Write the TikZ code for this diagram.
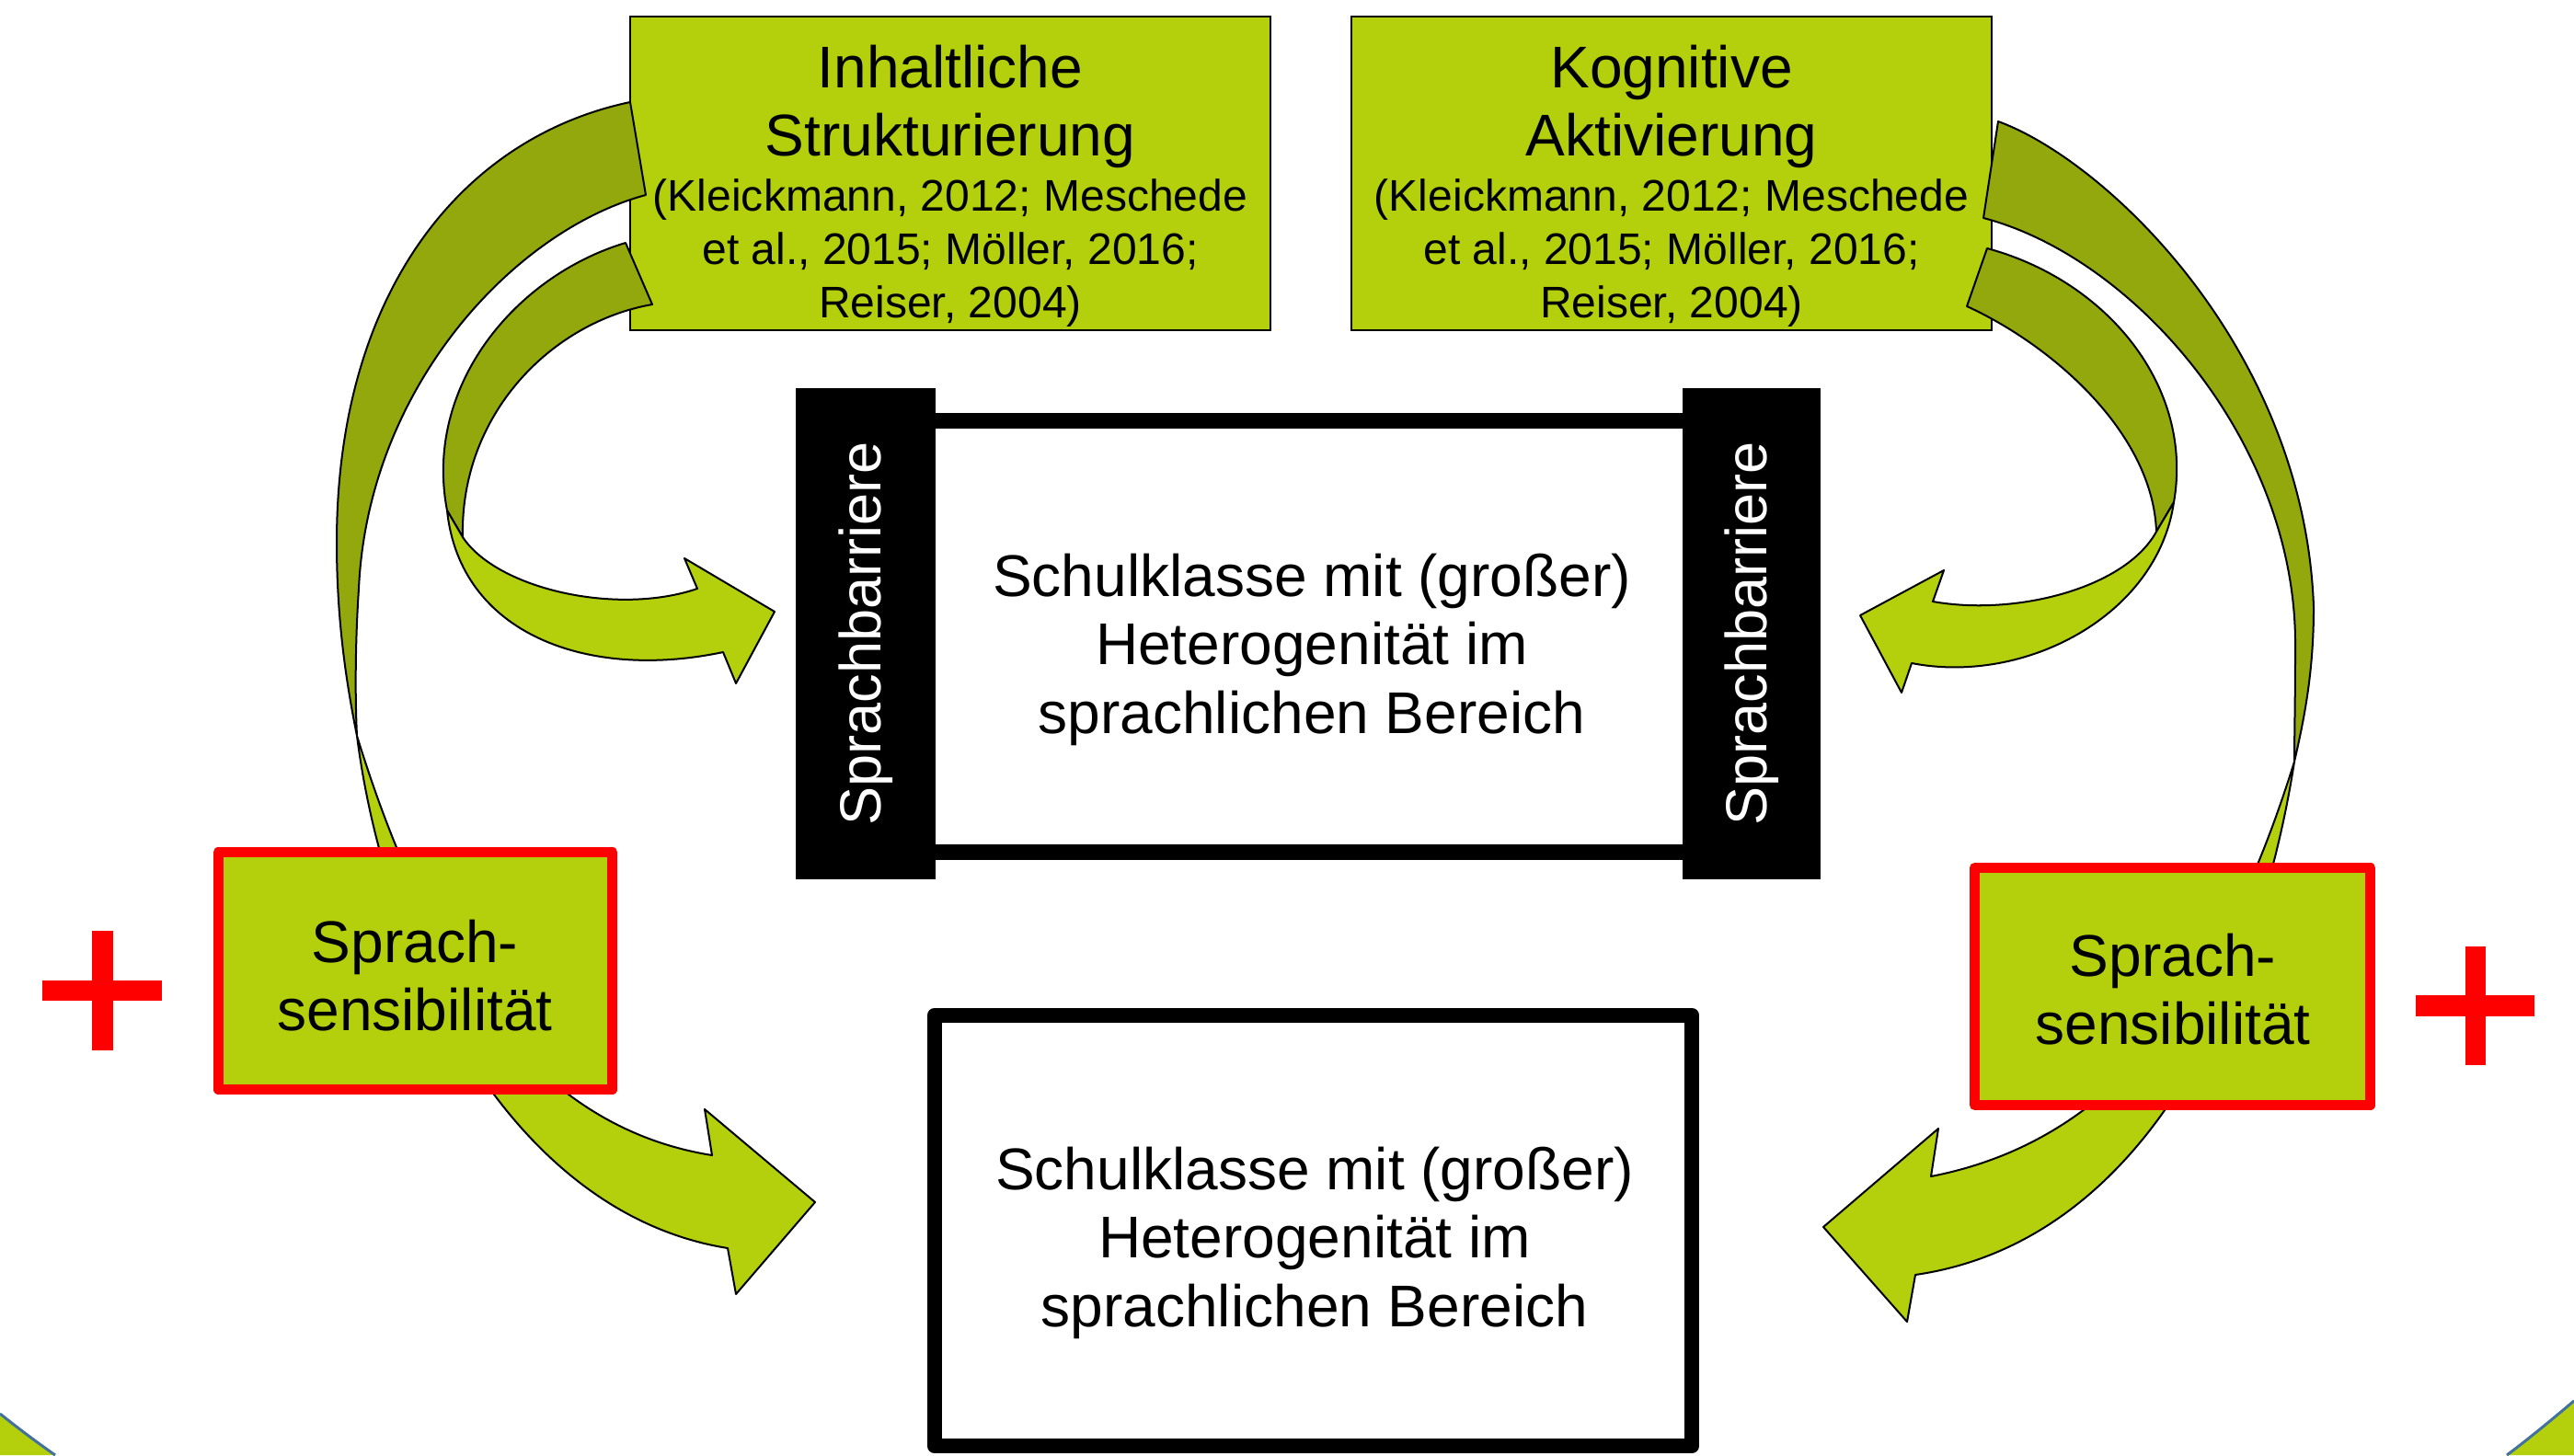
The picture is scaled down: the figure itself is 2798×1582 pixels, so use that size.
\documentclass[tikz,border=0pt]{standalone}
\usepackage{fontspec}
\setmainfont{Liberation Sans}
\definecolor{ltgreen}{RGB}{180,208,12}
\definecolor{dkgreen}{RGB}{146,168,12}
\definecolor{cornerblue}{RGB}{65,113,156}
\newcommand\bigfont{\fontsize{18.21}{21.2}\selectfont}
\newcommand\citefont{\fontsize{13.66}{16.5}\selectfont}
\newcommand\barfont{\fontsize{17.93}{21}\selectfont}
\begin{document}
\begin{tikzpicture}[x=0.01cm, y=-0.01cm,
  topbox/.style={draw=black, fill=ltgreen, line width=0.02cm, minimum width=6.96cm, minimum height=3.41cm, inner sep=0pt},
  redbox/.style={draw=red, fill=ltgreen, line width=0.11cm, line join=round, minimum height=2.58cm, inner sep=0pt},
  barbox/.style={fill=black, minimum width=1.51cm, minimum height=5.34cm, inner sep=0pt},
  classbox/.style={draw=black, fill=white, line join=round, inner sep=0pt},
  back/.style={fill=dkgreen, draw=black, line width=0.02cm, line join=round},
  front/.style={fill=ltgreen, draw=black, line width=0.02cm, line join=round},
  lbl/.style={font=\bigfont, align=center, inner sep=0pt, anchor=north},
  plus/.style={fill=red}
]
\useasboundingbox (0,0) rectangle (2798,1582);
\fill[white] (0,0) rectangle (2798,1582);

% corner shapes
\fill[ltgreen] (0,1537) .. controls (20,1553) and (40,1568) .. (60,1582) -- (0,1582) -- cycle;
\draw[cornerblue, line width=0.03cm] (0,1537) .. controls (20,1553) and (40,1568) .. (60,1582);
\fill[ltgreen] (2798,1523) .. controls (2772,1545) and (2749,1564) .. (2725,1582) -- (2798,1582) -- cycle;
\draw[cornerblue, line width=0.03cm] (2798,1523) .. controls (2772,1545) and (2749,1564) .. (2725,1582);

% top boxes
\node[topbox] (ins) at (1033,188.5) {};
\node[topbox] (kog) at (1817,188.5) {};
\node[lbl] (institle) at (1033,48) {Inhaltliche\\Strukturierung};
\node[lbl, font=\citefont] (inscite) at (1033,194) {(Kleickmann, 2012; Meschede\\et al., 2015; Möller, 2016;\\Reiser, 2004)};
\node[lbl] (kogtitle) at (1817,48) {Kognitive\\Aktivierung};
\node[lbl, font=\citefont] (kogcite) at (1817,194) {(Kleickmann, 2012; Meschede\\et al., 2015; Möller, 2016;\\Reiser, 2004)};

% big left arrow
\filldraw[back] (685,111) .. controls (500,150) and (366,320) .. (366,590)
  .. controls (366,680) and (378,750) .. (388,800)
  .. controls (386,760) and (386,700) .. (390,640)
  .. controls (400,420) and (560,250) .. (702,212) -- cycle;
\filldraw[front] (388,800) .. controls (465,1050) and (580,1225) .. (774,1256)
  -- (766,1206) -- (886,1307) -- (800,1407) -- (791,1357)
  .. controls (560,1320) and (420,1050) .. (388,800) -- cycle;

% small left arrow
\filldraw[back] (680,264) .. controls (560,300) and (460,420) .. (486,555)
  -- (503,584) .. controls (500,450) and (600,350) .. (709,331) -- cycle;
\filldraw[front] (503,584) .. controls (540,640) and (670,670) .. (758,640)
  -- (744,607) -- (842,665) -- (800,743) -- (786,709)
  .. controls (640,740) and (500,690) .. (486,555) -- cycle;

% big right arrow
\filldraw[back] (2172,132) .. controls (2290,175) and (2505,380) .. (2515,660)
  .. controls (2515,730) and (2505,780) .. (2494,828)
  .. controls (2494,800) and (2495,760) .. (2495,700)
  .. controls (2495,480) and (2320,280) .. (2156,237) -- cycle;
\filldraw[front] (2494,828) .. controls (2416,1078) and (2300,1240) .. (2099,1279)
  -- (2107,1227) -- (1982,1334) -- (2073,1437) -- (2082,1386)
  .. controls (2330,1350) and (2455,1078) .. (2494,828) -- cycle;

% small right arrow
\filldraw[back] (2160,270) .. controls (2290,305) and (2385,420) .. (2363,546)
  -- (2344,578) .. controls (2340,470) and (2230,375) .. (2138,333) -- cycle;
\filldraw[front] (2344,578) .. controls (2310,640) and (2190,670) .. (2101,654)
  -- (2113,620) -- (2022,669) -- (2067,753) -- (2078,721)
  .. controls (2200,745) and (2345,670) .. (2363,546) -- cycle;

% red boxes
\node[redbox, minimum width=4.28cm] (sensl) at (451.5,1055.5) {};
\node[redbox, minimum width=4.30cm] (sensr) at (2361.5,1072.5) {};
\node[lbl] (senslt) at (451,999) {Sprach-\\sensibilität};
\node[lbl] (sensrt) at (2362,1014) {Sprach-\\sensibilität};

% plus signs
\fill[plus] (46,1066) rectangle (176,1088);
\fill[plus] (100,1012) rectangle (123,1142);
\fill[plus] (2626,1082) rectangle (2755,1105);
\fill[plus] (2680,1029) rectangle (2702,1158);

% middle class box with barriers
\node[classbox, line width=0.17cm, minimum width=8.46cm, minimum height=4.69cm] (mid) at (1423,692) {};
\node[barbox] (barl) at (941,689) {};
\node[barbox, minimum width=1.50cm] (barr) at (1904,689) {};
\node[font=\barfont, text=white, rotate=90, inner sep=0pt] (barlt) at (barl.center) {Sprachbarriere};
\node[font=\barfont, text=white, rotate=90, inner sep=0pt] (barrt) at (barr.center) {Sprachbarriere};
\node[lbl] (midtxt) at (1426,601) {Schulklasse mit (großer)\\Heterogenität im\\sprachlichen Bereich};

% bottom class box
\node[classbox, line width=0.16cm, minimum width=8.23cm, minimum height=4.68cm] (bot) at (1427.5,1338) {};
\node[lbl] (bottxt) at (1429,1246) {Schulklasse mit (großer)\\Heterogenität im\\sprachlichen Bereich};
\end{tikzpicture}
\end{document}
